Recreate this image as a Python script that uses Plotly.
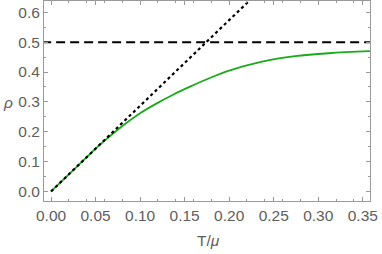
import plotly.graph_objects as go

# Data
T_green = [0.0, 0.03, 0.055, 0.0812, 0.1, 0.1187, 0.137, 0.156, 0.175, 0.199, 0.237, 0.274, 0.3116, 0.358]
rho_green = [0.0, 0.086, 0.157, 0.222, 0.262, 0.295, 0.324, 0.351, 0.376, 0.404, 0.435, 0.453, 0.463, 0.47]

T_dotted = [0.0, 0.25]
rho_dotted = [0.0, 0.7175]

T_dashed = [-0.01, 0.36]
rho_dashed = [0.5, 0.5]

xticks = [0.0, 0.05, 0.10, 0.15, 0.20, 0.25, 0.30, 0.35]
yticks = [0.0, 0.1, 0.2, 0.3, 0.4, 0.5, 0.6]

FONT = "Liberation Sans, Arial"
GRAY = "#5e5e5e"

fig = go.Figure()
fig.add_trace(go.Scatter(x=T_dashed, y=rho_dashed, mode="lines",
                         line=dict(color="black", width=2, dash="9px,5px")))
fig.add_trace(go.Scatter(x=T_green, y=rho_green, mode="lines", line_shape="spline",
                         line=dict(color="rgb(26,170,26)", width=1.8, smoothing=1.0)))
fig.add_trace(go.Scatter(x=T_dotted, y=rho_dotted, mode="lines",
                         line=dict(color="black", width=2.2, dash="dot")))

axis_common = dict(showline=True, linecolor="#999", linewidth=1, mirror="allticks",
                   ticks="inside", ticklen=4, tickcolor="#999", showgrid=False, zeroline=False,
                   automargin=False,
                   tickfont=dict(family=FONT, size=15.5, color=GRAY),
                   minor=dict(ticks="inside", ticklen=2, tickcolor="#999", nticks=5))

fig.update_xaxes(range=[-0.0079, 0.3581], tickvals=xticks, ticktext=[f"{v:.2f}" for v in xticks],
                 **axis_common)
fig.update_yaxes(range=[-0.032, 0.638], tickvals=yticks, ticktext=[f"{v:.1f}" for v in yticks],
                 **axis_common)

fig.update_layout(width=382, height=254, margin=dict(l=44, r=12, t=1, b=53),
                  paper_bgcolor="white", plot_bgcolor="white", showlegend=False,
                  annotations=[
                      dict(text="<i>ρ</i>", x=-(44 - 8) / 326, y=(201 - 102) / 200,
                           xref="paper", yref="paper", showarrow=False,
                           xanchor="center", yanchor="middle",
                           font=dict(family=FONT, size=15.5, color=GRAY)),
                      dict(text="T/<i>μ</i>", x=(208 - 44) / 326, y=-(240 - 201) / 200,
                           xref="paper", yref="paper", showarrow=False,
                           xanchor="center", yanchor="middle",
                           font=dict(family=FONT, size=15.5, color=GRAY)),
                  ])

fig.write_html("out.html", config={"displayModeBar": False},
               post_script="document.body.style.margin='0';document.body.style.padding='0';")
